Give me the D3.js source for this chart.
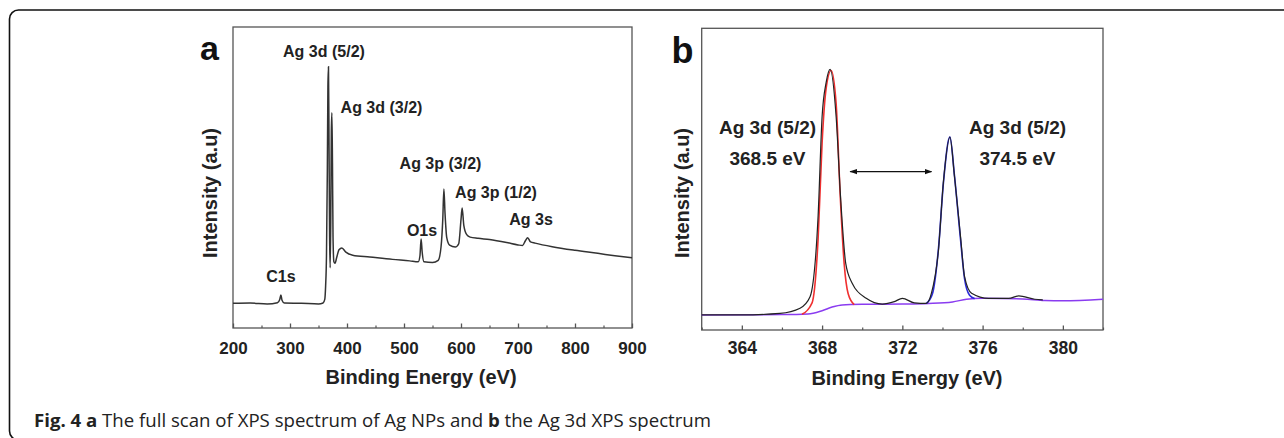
<!DOCTYPE html>
<html><head><meta charset="utf-8">
<script src="https://cdn.jsdelivr.net/npm/d3@7"></script>
<style>
html,body{margin:0;padding:0;background:#fff;}
svg{display:block;}
</style></head>
<body>
<svg id="chart" width="1284" height="438"></svg>
<script>
// ---------- Panel a : full XPS survey scan ----------
const aEnergy = [200,230,260,278,282,284,286,290,320,350,358,361,362.5,364,365.5,366.5,367.5,368.5,369.5,370.5,371.5,372.5,373.5,374.5,375.5,377,379,382,386,391,398,410,440,480,510,525,528,530,532,535,550,560,565,568,570,572,575,580,590,596,600,602,605,610,616,630,650,680,700,708,713,717,722,730,760,800,840,870,900];
const aIntensity = [8.2,8.3,8.0,8.4,9.5,11.0,9.2,8.3,8.2,8.0,8.3,9.5,14,24,52,80,86.8,60,30,20,35,65,71.5,55,30,22,21.5,23.5,26,26.6,25.2,24.2,23.6,22.8,22.3,22.0,24,29.6,25,22,21.8,22.5,27,36,46.2,38,30,27.5,26.9,28,36,39.9,34,31,30.2,29.8,29.4,28.4,27.6,27.4,29,30,28.6,28.2,27,25.8,24.8,24,23.3];
const aTicks = [200,300,400,500,600,700,800,900];
const aMinorTicks = [250,350,450,550,650,750,850];
const aLabels = ["Ag 3d (5/2)","Ag 3d (3/2)","Ag 3p (3/2)","Ag 3p (1/2)","O1s","Ag 3s","C1s"];
const aLabelEnergy = [359.6,460.5,564,661.4,531.6,722.8,284.2];
const aLabelIntensity = [90.0,71.4,52.8,43.2,30.6,34.2,15.3];

// ---------- Panel b : Ag 3d high-resolution ----------
const bExpEnergy = [362,364,365.9,366.9,367.4,367.8,368.0,368.2,368.4,368.7,368.93,369.18,369.5,370.2,371.0,371.6,372.0,372.6,373.2,373.45,373.8,374.04,374.37,374.6,374.9,375.1,375.45,376.3,377.3,377.8,378.6,379.0];
const bExpIntensity = [5.0,5.0,5.5,7.2,11,37.6,70.7,82,86.4,70.7,43,22,15.5,10.5,8.6,9.4,10.5,9,8.8,12.2,26.5,48.6,63.9,50.8,30.9,17.7,12.2,10.5,10.5,11.3,10.2,10.0];
const bFit1Energy = [367.0,367.5,367.8,368.0,368.2,368.45,368.7,368.9,369.1,369.3,369.6];
const bFit1Intensity = [5.2,9,30,62,80,86,75,45,22,12,8.4];
const bFit2Energy = [373.2,373.5,373.8,374.05,374.37,374.6,374.9,375.1,375.35,375.6];
const bFit2Intensity = [8.8,12,27,49,64,51,30,17,11.5,10.4];
const bBgEnergy = [362,366,367.3,368.0,368.5,369.0,370,372,373.3,374.5,375.2,376,378,379.1,380,382];
const bBgIntensity = [5.0,5.1,5.3,6.4,7.6,8.3,8.5,8.6,8.8,9.3,10.2,10.5,10.3,9.8,9.7,10.2];
const bTicks = [364,368,372,376,380];
const bMinorTicks = [362,366,370,374,378,382];
const bLabels = ["Ag 3d (5/2)","368.5 eV","Ag 3d (5/2)","374.5 eV"];
const bLabelEnergy = [365.28,365.28,377.74,377.74];
const bLabelIntensity = [65.0,54.7,65.0,54.7];
const bArrowEnergy = [369.4,373.45];
const bArrowIntensity = 52.5;

const caption = [["Fig. 4 ",true],["a",true],[" The full scan of XPS spectrum of Ag NPs and ",false],["b",true],[" the Ag 3d XPS spectrum",false]];

const svg = d3.select("#chart");
const FONT = "'Liberation Sans', Arial, sans-serif";
const TXT = "#222";
const AX = "#555";

// outer rounded frame
svg.append("rect").attr("x",9.5).attr("y",10).attr("width",1400).attr("height",430)
  .attr("rx",9).attr("fill","none").attr("stroke","#111").attr("stroke-width",1.6);

svg.append("defs").append("marker").attr("id","ah").attr("viewBox","0 0 10 10")
  .attr("refX",9).attr("refY",5).attr("markerWidth",7).attr("markerHeight",7)
  .attr("orient","auto-start-reverse")
  .append("path").attr("d","M0,1.5 L10,5 L0,8.5 Z").attr("fill","#111");

function panel(opt){
  const g = svg.append("g");
  const x = d3.scaleLinear().domain(opt.xd).range([opt.l,opt.r]);
  const y = d3.scaleLinear().domain([0,100]).range([opt.b,opt.t]);
  g.append("g").attr("transform",`translate(0,${opt.b})`)
    .call(d3.axisBottom(x).tickValues(opt.minor).tickSize(-2.5).tickFormat(""))
    .call(s=>{s.select(".domain").remove(); s.selectAll("line").attr("stroke",AX).attr("stroke-width",1.2);});
  const ax = g.append("g").attr("transform",`translate(0,${opt.b})`)
    .call(d3.axisBottom(x).tickValues(opt.ticks).tickSize(-4.5).tickPadding(opt.pad).tickFormat(d3.format("d")));
  ax.select(".domain").remove();
  ax.selectAll("line").attr("stroke",AX).attr("stroke-width",1.3);
  ax.selectAll("text").attr("font-family",FONT).attr("font-weight","bold")
    .attr("font-size",opt.tickFs).attr("fill",TXT);
  g.append("rect").attr("x",opt.l).attr("y",opt.t).attr("width",opt.r-opt.l).attr("height",opt.b-opt.t)
    .attr("fill","none").attr("stroke",AX).attr("stroke-width",1.3);
  g.append("text").attr("x",(opt.l+opt.r)/2+opt.xtdx).attr("y",opt.xty).attr("text-anchor","middle")
    .attr("font-family",FONT).attr("font-weight","bold").attr("font-size",20).attr("fill",TXT)
    .text("Binding Energy (eV)");
  g.append("text").attr("transform",`translate(${opt.ytx},${opt.yty}) rotate(-90)`).attr("text-anchor","middle")
    .attr("font-family",FONT).attr("font-weight","bold").attr("font-size",20).attr("fill",TXT)
    .text("Intensity (a.u)");
  g.append("text").attr("x",opt.lx).attr("y",opt.ly).attr("text-anchor","start")
    .attr("font-family",FONT).attr("font-weight","bold").attr("font-size",opt.lfs).attr("fill","#111")
    .text(opt.letter);
  return {g,x,y};
}

// Panel a
const A = panel({xd:[200,900],l:233,r:632,t:27,b:328,ticks:aTicks,minor:aMinorTicks,pad:14,tickFs:17,
  xtdx:-11.5,xty:384,ytx:217,yty:193,letter:"a",lx:200,ly:59.5,lfs:34});
const lineA = d3.line().x((d,i)=>A.x(aEnergy[i])).y((d,i)=>A.y(aIntensity[i])).curve(d3.curveMonotoneX);
A.g.append("path").attr("d",lineA(aEnergy)).attr("fill","none").attr("stroke","#333").attr("stroke-width",1.5);
A.g.selectAll("text.pk").data(aLabels).enter().append("text").attr("class","pk")
  .attr("x",(d,i)=>A.x(aLabelEnergy[i])).attr("y",(d,i)=>A.y(aLabelIntensity[i]))
  .attr("text-anchor","middle").attr("font-family",FONT).attr("font-weight","bold")
  .attr("font-size",16).attr("fill",TXT).text(d=>d);

// Panel b
const B = panel({xd:[362,382],l:701.7,r:1103,t:28.3,b:330,ticks:bTicks,minor:bMinorTicks,pad:12,tickFs:17.5,
  xtdx:4.6,xty:385,ytx:689,yty:193,letter:"b",lx:671.5,ly:62.5,lfs:36});
function mk(ex,ey){ return d3.line().x((d,i)=>B.x(ex[i])).y((d,i)=>B.y(ey[i])).curve(d3.curveMonotoneX)(ex); }
B.g.append("path").attr("d",mk(bBgEnergy,bBgIntensity)).attr("fill","none").attr("stroke","#8a3cf0").attr("stroke-width",1.5);
B.g.append("path").attr("d",mk(bFit1Energy,bFit1Intensity)).attr("fill","none").attr("stroke","#f03030").attr("stroke-width",1.6);
B.g.append("path").attr("d",mk(bFit2Energy,bFit2Intensity)).attr("fill","none").attr("stroke","#2a2ad8").attr("stroke-width",1.6);
B.g.append("path").attr("d",mk(bExpEnergy,bExpIntensity)).attr("fill","none").attr("stroke","#222").attr("stroke-width",1.2);
B.g.append("line").attr("x1",B.x(bArrowEnergy[0])).attr("x2",B.x(bArrowEnergy[1]))
  .attr("y1",B.y(bArrowIntensity)).attr("y2",B.y(bArrowIntensity))
  .attr("stroke","#111").attr("stroke-width",1.1)
  .attr("marker-start","url(#ah)").attr("marker-end","url(#ah)");
B.g.selectAll("text.pk").data(bLabels).enter().append("text").attr("class","pk")
  .attr("x",(d,i)=>B.x(bLabelEnergy[i])).attr("y",(d,i)=>B.y(bLabelIntensity[i]))
  .attr("text-anchor","middle").attr("font-family",FONT).attr("font-weight","bold")
  .attr("font-size",19).attr("fill",TXT).text(d=>d);

// caption
const cap = svg.append("text").attr("x",34).attr("y",427).attr("font-family","'Open Sans', 'Noto Sans', sans-serif")
  .attr("font-size",17.5).attr("fill","#222")
  .attr("textLength",677).attr("lengthAdjust","spacingAndGlyphs");
caption.forEach(([t,b])=>cap.append("tspan").attr("font-weight",b?"bold":"normal").text(t));
</script>
</body></html>
